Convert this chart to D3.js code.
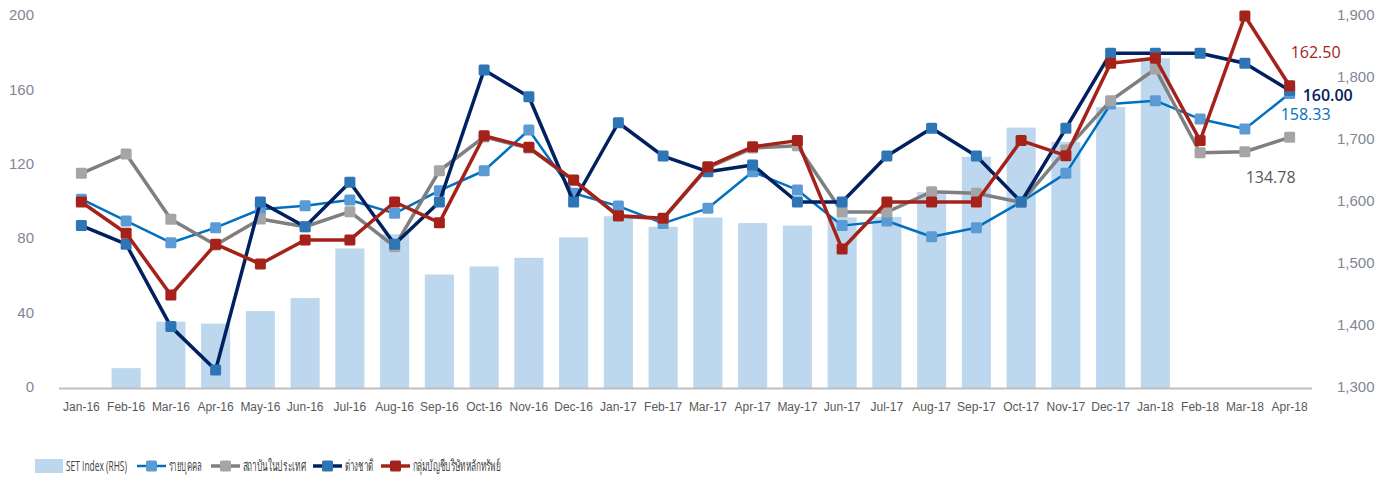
<!DOCTYPE html>
<html><head><meta charset="utf-8">
<script src="https://cdn.jsdelivr.net/npm/d3@7"></script>
<style>
html,body{margin:0;padding:0;background:#fff;}
svg{display:block;font-family:"Open Sans","Noto Sans",sans-serif;}
</style></head>
<body><svg id="chart" width="1389" height="478"></svg>
<script>
const categories = ["Jan-16","Feb-16","Mar-16","Apr-16","May-16","Jun-16","Jul-16","Aug-16","Sep-16","Oct-16","Nov-16","Dec-16","Jan-17","Feb-17","Mar-17","Apr-17","May-17","Jun-17","Jul-17","Aug-17","Sep-17","Oct-17","Nov-17","Dec-17","Jan-18","Feb-18","Mar-18","Apr-18"];
const setIndex = [1300,1332,1407,1404,1424,1445,1525,1548,1483,1496,1510,1543,1577,1560,1575,1566,1562,1575,1576,1616,1673,1720,1697,1753,1832,null,null,null];
const retail = [101.5,89.8,78.1,86.2,96.1,98,101.1,93.9,106.1,116.8,138.7,104.7,97.8,88.5,96.6,116.3,106.5,87.3,89.8,81.3,86.2,100,115.4,152.7,154.5,144.6,139.2,158.33];
const localInst = [115.4,125.8,90.7,76.9,90.9,86.7,94.8,76,116.8,135,129,111.5,92.4,91,118.5,129,130.2,94.6,94.6,105.5,104.7,99.8,128,154.5,171.5,126.5,127,134.78];
const foreign = [87.3,77.3,33,9.7,100,86.7,110.6,77.3,100,171,156.6,100,142.6,124.7,116.3,119.9,100,100,124.7,139.6,124.7,100,139.6,180,180,180,174.6,160];
const propTrade = [100,83.2,50,77.3,66.7,79.6,79.6,100,88.9,135.6,129.4,111.8,92.6,91.2,119,129.7,133,74.7,100,100,100,133,124.9,174.6,177.3,133,200,162.5];
const leftTicks = [0,40,80,120,160,200];
const rightTicks = [1300,1400,1500,1600,1700,1800,1900];
const seriesNames = ["SET Index (RHS)","รายบุคคล","สถาบันในประเทศ","ต่างชาติ","กลุ่มบัญชีบริษัทหลักทรัพย์"];

const svg = d3.select("#chart");
const x = d3.scaleBand().domain(categories).range([59,1312]).paddingInner(0.35).paddingOuter(0.175);
const yL = d3.scaleLinear().domain([0,200]).range([388,16]);
const yR = d3.scaleLinear().domain([1300,1900]).range([388,16]);
const cx = d => x(d) + x.bandwidth()/2;

// bars
svg.append("g").selectAll("rect").data(categories.map((c,i)=>({c,v:setIndex[i]})).filter(d=>d.v!=null))
 .join("rect").attr("x",d=>x(d.c)).attr("width",x.bandwidth())
 .attr("y",d=>yR(d.v)).attr("height",d=>yR(1300)-yR(d.v)).attr("fill","#BDD7EE");

// axis line
svg.append("line").attr("x1",59).attr("x2",1312).attr("y1",388.5).attr("y2",388.5).attr("stroke","#BFBFBF").attr("stroke-width",2);

// left axis
const la = svg.append("g").attr("transform","translate(34,0)").call(d3.axisLeft(yL).tickValues(leftTicks).tickSize(0).tickPadding(0));
la.select(".domain").remove();
la.selectAll("text").attr("fill","#7F8796").attr("font-size","15px").attr("dy","0.25em");
// right axis
const ra = svg.append("g").attr("transform","translate(1337,0)").call(d3.axisRight(yR).tickValues(rightTicks).tickSize(0).tickPadding(0).tickFormat(d3.format(",")));
ra.select(".domain").remove();
ra.selectAll("text").attr("fill","#7F8796").attr("font-size","15px").attr("dy","0.25em");
// x axis
const xa = svg.append("g").attr("transform","translate(0,402)").call(d3.axisBottom(x).tickSize(0).tickPadding(0));
xa.select(".domain").remove();
xa.selectAll("text").attr("fill","#595959").attr("font-size","12px");

const series = [
 {name:seriesNames[1], data:retail, line:"#0070C0", mark:"#5B9BD5", w:2.5},
 {name:seriesNames[2], data:localInst, line:"#7F7F7F", mark:"#A5A5A5", w:3.5},
 {name:seriesNames[3], data:foreign, line:"#002060", mark:"#2E75B6", w:3.5},
 {name:seriesNames[4], data:propTrade, line:"#A5221B", mark:"#A5221B", w:3.5}
];
const lineGen = d3.line().x((d,i)=>cx(categories[i])).y(d=>yL(d));
series.forEach(s=>{
  const g = svg.append("g");
  g.append("path").attr("d",lineGen(s.data)).attr("fill","none").attr("stroke",s.line).attr("stroke-width",s.w).attr("stroke-linejoin","round");
  g.selectAll("rect").data(s.data).join("rect")
   .attr("x",(d,i)=>cx(categories[i])-5.5).attr("y",d=>yL(d)-5.5)
   .attr("width",11).attr("height",11).attr("rx",1.5).attr("fill",s.mark);
});

// end labels
const last = categories.length-1;
const endLabels = [
 {v:propTrade[last], t:"162.50", c:"#A5221B", dx:1, dy:-28, fw:400},
 {v:foreign[last], t:"160.00", c:"#002060", dx:13, dy:11, fw:600},
 {v:retail[last], t:"158.33", c:"#0070C0", dx:-9, dy:26, fw:400},
 {v:localInst[last], t:"134.78", c:"#595959", dx:-44, dy:46, fw:400}
];
svg.append("g").selectAll("text").data(endLabels).join("text")
 .attr("x",d=>cx(categories[last])+d.dx).attr("y",d=>yL(d.v)+d.dy)
 .attr("fill",d=>d.c).attr("font-size","16px").attr("font-weight",d=>d.fw).attr("text-anchor","start").text(d=>d.t);

// legend
const lg = svg.append("g").attr("font-size","15px").attr("fill","#404040");
const legW = [61,33,63,28,90];
function legText(xp, name, w){
  const t = lg.append("text").attr("x",0).attr("y",0).attr("fill","#404040").text(name);
  const nat = t.node().getComputedTextLength();
  const k = Math.min(1, w/nat);
  t.attr("transform",`translate(${xp},471) scale(${k},1)`);
}
lg.append("rect").attr("x",35).attr("y",459).attr("width",28).attr("height",14).attr("fill","#BDD7EE");
legText(66, seriesNames[0], legW[0]);
const lx = [137,211,313,381];
series.forEach((s,i)=>{
  lg.append("line").attr("x1",lx[i]).attr("x2",lx[i]+29).attr("y1",466).attr("y2",466).attr("stroke",s.line).attr("stroke-width",s.w);
  lg.append("rect").attr("x",lx[i]+14.5-5.5).attr("y",460.5).attr("width",11).attr("height",11).attr("rx",1.5).attr("fill",s.mark);
  legText(lx[i]+31.5, s.name, legW[i+1]);
});
</script></body></html>
